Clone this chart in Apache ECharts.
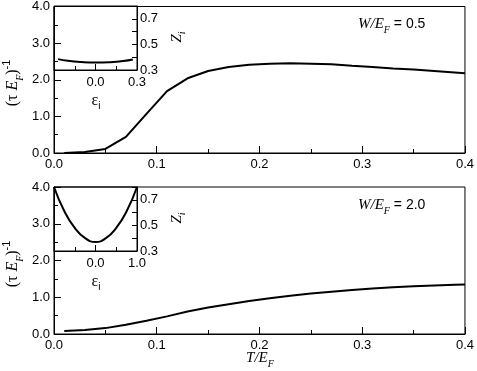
<!DOCTYPE html>
<html>
<head>
<meta charset="utf-8">
<script src="https://cdn.jsdelivr.net/npm/echarts@6/dist/echarts.min.js"></script>
<style>
  html, body { margin: 0; padding: 0; background: #fff; }
  #chart { width: 477px; height: 371px; }
</style>
</head>
<body>
<div id="chart"></div>
<script>
// temperature grid T/E_F
var tValues = [0.01, 0.03, 0.05, 0.07, 0.09, 0.11, 0.13, 0.15, 0.17, 0.19, 0.21,
    0.23, 0.25, 0.27, 0.29, 0.31, 0.33, 0.35, 0.37, 0.39, 0.40];
// (tau E_F)^-1 for W/E_F = 0.5
var rateW05 = [0.00, 0.03, 0.11, 0.44, 1.07, 1.69, 2.04, 2.24, 2.35, 2.41, 2.44,
    2.45, 2.44, 2.42, 2.38, 2.35, 2.31, 2.28, 2.24, 2.20, 2.18];
// (tau E_F)^-1 for W/E_F = 2.0
var rateW20 = [0.08, 0.11, 0.16, 0.25, 0.36, 0.48, 0.61, 0.72, 0.81, 0.90, 0.97,
    1.04, 1.10, 1.15, 1.20, 1.24, 1.27, 1.30, 1.32, 1.34, 1.35];

// insets: Z_i against eps_i
var epsW05 = [-0.27, -0.2, -0.1, 0.0, 0.1, 0.2, 0.27];
var zW05 = [0.385, 0.372, 0.362, 0.358, 0.361, 0.370, 0.382];
var epsW20 = [-1.0, -0.75, -0.5, -0.25, 0.0, 0.25, 0.5, 0.75, 1.0];
var zW20 = [0.80, 0.61, 0.48, 0.40, 0.37, 0.40, 0.48, 0.61, 0.80];

var panelLabels = ['0.5', '2.0'];

(function () {
    'use strict';

    function pairs(xs, ys) {
        var out = [];
        for (var i = 0; i < xs.length; i++) {
            out.push([xs[i], ys[i]]);
        }
        return out;
    }

    var sans = 'Liberation Sans';
    var serif = 'Liberation Serif';

    function fmt1(v) {
        return (Math.round(v * 10) / 10).toFixed(1);
    }

    // layout of the two panels (pixels)
    var panelTop = [6, 187];
    var plotLeft = 54, plotW = 413, plotH = 147;
    var insetW = 83, insetH = 64;

    var grids = [], xAxes = [], yAxes = [], series = [], graphics = [];

    for (var p = 0; p < 2; p++) {
        var panelY = panelTop[p];
        var mainIdx = p * 2, insetIdx = p * 2 + 1;

        grids.push({
            left: plotLeft, top: panelY, width: plotW, height: plotH,
            show: true, borderColor: '#000', borderWidth: 1, backgroundColor: 'transparent'
        });
        grids.push({
            left: plotLeft, top: panelY, width: insetW, height: insetH,
            show: true, borderColor: '#000', borderWidth: 1, backgroundColor: 'transparent'
        });

        xAxes.push({
            gridIndex: mainIdx, type: 'value', min: 0, max: 0.4, interval: 0.1,
            axisLine: { show: true, onZero: false, lineStyle: { color: '#000', width: 1 } },
            axisTick: { show: true, inside: true, length: 7, lineStyle: { color: '#000' } },
            minorTick: { show: true, splitNumber: 2, length: 4, lineStyle: { color: '#000' } },
            splitLine: { show: false },
            axisLabel: { color: '#000', fontFamily: sans, fontSize: 13, margin: 5, formatter: fmt1 }
        });
        yAxes.push({
            gridIndex: mainIdx, type: 'value', min: 0, max: 4, interval: 1,
            axisLine: { show: true, onZero: false, lineStyle: { color: '#000', width: 1 } },
            axisTick: { show: true, inside: true, length: 7, lineStyle: { color: '#000' } },
            minorTick: { show: true, splitNumber: 2, length: 4, lineStyle: { color: '#000' } },
            splitLine: { show: false },
            axisLabel: { color: '#000', fontFamily: sans, fontSize: 13, margin: 4, formatter: fmt1 }
        });

        var epsMax = p === 0 ? 0.3 : 1;
        xAxes.push({
            gridIndex: insetIdx, type: 'value', min: -epsMax, max: epsMax, interval: epsMax,
            axisLine: { show: true, onZero: false, lineStyle: { color: '#000', width: 1 } },
            axisTick: { show: true, inside: true, length: 6, lineStyle: { color: '#000' } },
            minorTick: { show: true, splitNumber: 2, length: 4, lineStyle: { color: '#000' } },
            splitLine: { show: false },
            axisLabel: {
                color: '#000', fontFamily: sans, fontSize: 13, margin: 6,
                formatter: function (v) { return v < -1e-9 ? '' : fmt1(v); }
            }
        });
        yAxes.push({
            gridIndex: insetIdx, type: 'value', position: 'right', min: 0.3, max: 0.8, interval: 0.1,
            axisLine: { show: true, onZero: false, lineStyle: { color: '#000', width: 1 } },
            axisTick: { show: true, inside: true, length: 5, lineStyle: { color: '#000' } },
            splitLine: { show: false },
            axisLabel: {
                color: '#000', fontFamily: sans, fontSize: 13, margin: 3,
                formatter: function (v) {
                    var k = Math.round(v * 10);
                    return (k === 3 || k === 5 || k === 7) ? fmt1(v) : '';
                }
            }
        });

        series.push({
            type: 'line', xAxisIndex: mainIdx, yAxisIndex: mainIdx,
            data: pairs(tValues, p === 0 ? rateW05 : rateW20),
            showSymbol: false, smooth: false, silent: true,
            lineStyle: { color: '#000', width: 2 }
        });
        series.push({
            type: 'line', xAxisIndex: insetIdx, yAxisIndex: insetIdx,
            data: p === 0 ? pairs(epsW05, zW05) : pairs(epsW20, zW20),
            showSymbol: false, smooth: true, silent: true,
            lineStyle: { color: '#000', width: 2 }
        });

        // W/E_F = value
        graphics.push({
            type: 'text', x: 358, y: panelY + 18,
            style: {
                text: '{it|W/E}{sub|F}{n| = ' + panelLabels[p] + '}',
                align: 'left', verticalAlign: 'middle',
                rich: {
                    it: { fontFamily: serif, fontStyle: 'italic', fontSize: 15, lineHeight: 22 },
                    sub: { fontFamily: serif, fontStyle: 'italic', fontSize: 10, verticalAlign: 'bottom' },
                    n: { fontFamily: sans, fontSize: 14, lineHeight: 22 }
                }
            }
        });
        // (tau E_F)^-1
        graphics.push({
            type: 'text', x: 13, y: panelY + 77, rotation: Math.PI / 2,
            style: {
                text: '{s|(τ }{it|E}{sub|F}{s|)}{sup|-1}',
                align: 'center', verticalAlign: 'middle',
                rich: {
                    s: { fontFamily: serif, fontSize: 16, lineHeight: 24 },
                    it: { fontFamily: serif, fontStyle: 'italic', fontSize: 16, lineHeight: 24 },
                    sub: { fontFamily: serif, fontStyle: 'italic', fontSize: 10, verticalAlign: 'bottom' },
                    sup: { fontFamily: sans, fontSize: 11, verticalAlign: 'top' }
                }
            }
        });
        // eps_i
        graphics.push({
            type: 'text', x: 96, y: panelY + 95,
            style: {
                text: '{g|ε}{sub|i}',
                align: 'center', verticalAlign: 'middle',
                rich: {
                    g: { fontFamily: serif, fontSize: 16, lineHeight: 20 },
                    sub: { fontFamily: sans, fontSize: 10, verticalAlign: 'bottom' }
                }
            }
        });
        // Z_i
        graphics.push({
            type: 'text', x: 177, y: panelY + 31, rotation: Math.PI / 2,
            style: {
                text: '{it|Z}{sub|i}',
                align: 'center', verticalAlign: 'middle',
                rich: {
                    it: { fontFamily: serif, fontStyle: 'italic', fontSize: 15, lineHeight: 20 },
                    sub: { fontFamily: serif, fontStyle: 'italic', fontSize: 10, verticalAlign: 'bottom' }
                }
            }
        });
    }

    // T/E_F
    graphics.push({
        type: 'text', x: 260, y: 358,
        style: {
            text: '{it|T/E}{sub|F}',
            align: 'center', verticalAlign: 'middle',
            rich: {
                it: { fontFamily: serif, fontStyle: 'italic', fontSize: 15, lineHeight: 22 },
                sub: { fontFamily: serif, fontStyle: 'italic', fontSize: 10, verticalAlign: 'bottom' }
            }
        }
    });

    var chart = echarts.init(document.getElementById('chart'), null, { renderer: 'canvas' });
    chart.setOption({
        animation: false,
        backgroundColor: '#fff',
        grid: grids,
        xAxis: xAxes,
        yAxis: yAxes,
        series: series,
        graphic: graphics
    });
})();
</script>
</body>
</html>
